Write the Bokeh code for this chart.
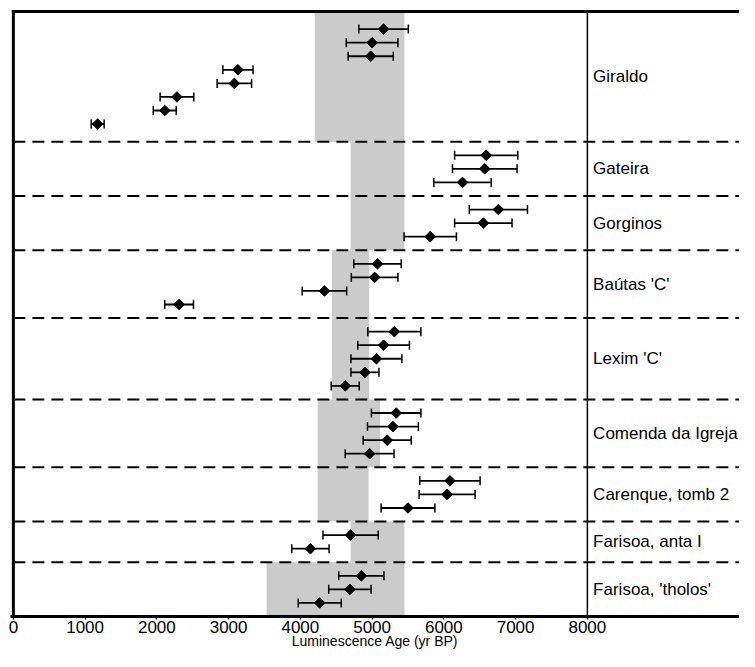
import numpy as np
from bokeh.plotting import figure
from bokeh.models import Range1d, FixedTicker
from bokeh.core.properties import value
from bokeh.embed import file_html
from bokeh.resources import INLINE

# ---------------- data ----------------
groups = ["Giraldo", "Gateira", "Gorginos", "Baútas 'C'", "Lexim 'C'",
          "Comenda da Igreja", "Carenque, tomb 2", "Farisoa, anta I", "Farisoa, 'tholos'"]

giraldo_age = [5160, 5000, 4980, 3130, 3080, 2280, 2110, 1175]
giraldo_err = [345, 360, 315, 210, 240, 235, 160, 90]
gateira_age = [6590, 6570, 6260]
gateira_err = [440, 450, 400]
gorginos_age = [6760, 6550, 5810]
gorginos_err = [405, 400, 365]
bautas_age = [5075, 5035, 4335, 2310]
bautas_err = [330, 325, 310, 200]
lexim_age = [5310, 5160, 5060, 4900, 4625]
lexim_err = [370, 360, 355, 195, 195]
comenda_age = [5335, 5290, 5210, 4965]
comenda_err = [345, 355, 335, 340]
carenque_age = [6085, 6045, 5500]
carenque_err = [420, 390, 375]
anta_age = [4700, 4140]
anta_err = [385, 260]
tholos_age = [4850, 4690, 4270]
tholos_err = [315, 295, 300]

band_lo = [4200, 4700, 4700, 4440, 4440, 4240, 4240, 4700, 3530]
band_hi = [5450, 5450, 5450, 4960, 4960, 5110, 4950, 5450, 5450]

x_ticks = [0, 1000, 2000, 3000, 4000, 5000, 6000, 7000, 8000]
x_title = "Luminescence Age (yr BP)"

all_ages = [giraldo_age, gateira_age, gorginos_age, bautas_age, lexim_age,
            comenda_age, carenque_age, anta_age, tholos_age]
all_errs = [giraldo_err, gateira_err, gorginos_err, bautas_err, lexim_err,
            comenda_err, carenque_err, anta_err, tholos_err]

# ---------------- layout (row units) ----------------
group_pad = [1.3, 1, 1, 1, 1, 1, 1, 1, 1]
ys, xs, lo, hi = [], [], [], []
bounds = [0.0]
cur = 0.0
for ag, er, pad in zip(all_ages, all_errs, group_pad):
    cur += pad
    for i, (a, e) in enumerate(zip(ag, er)):
        ys.append(cur + i)
        xs.append(a)
        lo.append(a - e)
        hi.append(a + e)
    cur += len(ag) - 1 + pad
    bounds.append(cur)
total = cur
mids = [(bounds[i] + bounds[i + 1]) / 2 for i in range(len(groups))]

W, H = 739, 651
BORDER_L, BORDER_T, BORDER_B = 10, 8, 35
FRAME_W = W - BORDER_L
top_extra = 0.22
x_start = -40
x_end = x_start + FRAME_W / 0.07175

p = figure(width=W, height=H,
           x_range=Range1d(x_start, x_end),
           y_range=Range1d(total, -top_extra),
           output_backend="svg", toolbar_location=None,
           y_axis_location=None,
           min_border_left=BORDER_L, min_border_right=0, min_border_top=BORDER_T,
           min_border_bottom=BORDER_B)
p.outline_line_color = None
p.xgrid.grid_line_color = None
p.ygrid.grid_line_color = None
p.background_fill_color = "white"

# grey bands
p.quad(left=band_lo, right=band_hi, top=bounds[:-1], bottom=bounds[1:],
       fill_color="#cbcbcb", line_color=None)

# dashed separators
n_sep = len(bounds) - 2
p.segment(x0=[0] * n_sep, x1=[x_end] * n_sep, y0=bounds[1:-1], y1=bounds[1:-1],
          line_color="black", line_width=2, line_dash="12 7")

# frame lines
p.segment(x0=[0], x1=[x_end], y0=[0], y1=[0], line_color="black", line_width=3, line_cap="square")
p.segment(x0=[0], x1=[0], y0=[0], y1=[total], line_color="black", line_width=3, line_cap="square")
p.segment(x0=[8000], x1=[8000], y0=[0], y1=[total], line_color="black", line_width=1.5)

# error bars
p.segment(x0=lo, x1=hi, y0=ys, y1=ys, line_color="black", line_width=1.8)
p.scatter(x=lo + hi, y=ys + ys, marker="dash", angle=np.pi / 2, size=9,
          line_color="black", line_width=1.5)
p.scatter(x=xs, y=ys, marker="square", angle=np.pi / 4, size=7.5,
          fill_color="black", line_color="black")

# group labels
p.text(x=[8080] * len(groups), y=mids, text=groups,
       text_font=value("Liberation Sans"), text_font_size="17px",
       text_baseline="middle", text_align="left", text_color="black")

# x axis
ax = p.xaxis[0]
ax.ticker = FixedTicker(ticks=x_ticks)
ax.axis_line_width = 3
ax.axis_line_color = "black"
ax.major_tick_line_width = 1.5
ax.major_tick_out = 3
ax.major_tick_in = 0
ax.minor_tick_line_color = None
ax.major_label_standoff = 1
ax.major_label_text_font = "Liberation Sans"
ax.major_label_text_font_size = "17px"
ax.major_label_text_color = "black"
ax.axis_label = x_title
ax.axis_label_text_font = "Liberation Sans"
ax.axis_label_text_font_size = "14px"
ax.axis_label_text_font_style = "normal"
ax.axis_label_text_color = "black"
ax.axis_label_standoff = -3

open("out.html", "w").write(file_html(p, INLINE))
